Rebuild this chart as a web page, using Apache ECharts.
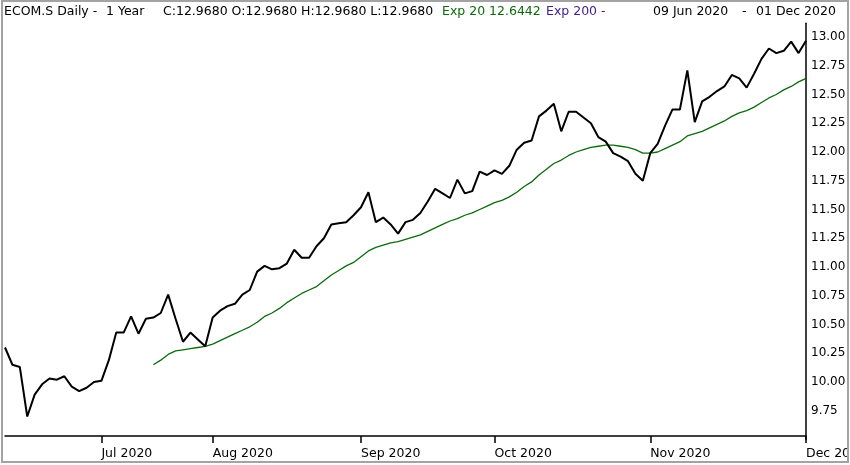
<!DOCTYPE html>
<html>
<head>
<meta charset="utf-8">
<script src="https://cdn.jsdelivr.net/npm/echarts@6/dist/echarts.min.js"></script>
<style>
  html, body { margin: 0; padding: 0; background: #fff; }
  #chart { width: 850px; height: 465px; }
</style>
</head>
<body>
<div id="chart"></div>
<script>
// ---- data ----
const monthNames = ['Jun 2020', 'Jul 2020', 'Aug 2020', 'Sep 2020', 'Oct 2020', 'Nov 2020', 'Dec 2020'];
const pointsPerMonth = [13, 15, 20, 18, 21, 21, 1];

const closeValues = [
  10.30, 10.15, 10.13, 9.70, 9.89, 9.98, 10.03, 10.02, 10.05, 9.96,
  9.92, 9.95, 10.00, 10.01, 10.19, 10.43, 10.43, 10.57, 10.42, 10.55,
  10.56, 10.60, 10.76, 10.55, 10.35, 10.43, 10.37, 10.31, 10.56, 10.62,
  10.66, 10.68, 10.76, 10.80, 10.96, 11.01, 10.98, 10.99, 11.03, 11.15,
  11.08, 11.08, 11.18, 11.25, 11.37, 11.38, 11.39, 11.45, 11.52, 11.65,
  11.39, 11.43, 11.37, 11.29, 11.39, 11.41, 11.47, 11.57, 11.68, 11.64,
  11.60, 11.76, 11.64, 11.66, 11.83, 11.80, 11.84, 11.81, 11.88, 12.02,
  12.08, 12.10, 12.31, 12.36, 12.42, 12.18, 12.35, 12.35, 12.30, 12.25,
  12.13, 12.09, 11.99, 11.96, 11.92, 11.81, 11.75, 11.99, 12.07, 12.23,
  12.37, 12.37, 12.71, 12.26, 12.44, 12.48, 12.53, 12.57, 12.67, 12.64,
  12.56, 12.68, 12.81, 12.90, 12.86, 12.88, 12.96, 12.86, 12.968
];

const ema20Lead = 20; // points before the Exp 20 line starts
const ema20Values = [
  10.15, 10.19, 10.24, 10.27, 10.28, 10.29, 10.30, 10.31, 10.33, 10.36,
  10.39, 10.42, 10.45, 10.48, 10.52, 10.57, 10.60, 10.64, 10.69, 10.73,
  10.77, 10.80, 10.83, 10.88, 10.93, 10.97, 11.01, 11.04, 11.09, 11.14,
  11.17, 11.19, 11.21, 11.22, 11.24, 11.26, 11.28, 11.31, 11.34, 11.37,
  11.40, 11.42, 11.45, 11.47, 11.50, 11.53, 11.56, 11.58, 11.61, 11.65,
  11.70, 11.74, 11.80, 11.85, 11.90, 11.93, 11.97, 12.00, 12.02, 12.04,
  12.05, 12.06, 12.06, 12.05, 12.04, 12.02, 11.99, 11.99, 12.00, 12.03,
  12.06, 12.09, 12.14, 12.16, 12.18, 12.21, 12.24, 12.27, 12.31, 12.34,
  12.36, 12.39, 12.43, 12.47, 12.50, 12.54, 12.57, 12.61, 12.64
];

const yTickMin = 9.5;
const yTickMax = 13.12;
const yTickStep = 0.25;

const headerParts = [
  { text: 'ECOM.S Daily -', color: '#000000' },
  { text: '1 Year', color: '#000000' },
  { text: 'C:12.9680 O:12.9680 H:12.9680 L:12.9680', color: '#000000' },
  { text: 'Exp 20 12.6442', color: '#0b6b0b' },
  { text: 'Exp 200 -', color: '#3b1e8e' },
  { text: '09 Jun 2020', color: '#000000' },
  { text: '-', color: '#000000' },
  { text: '01 Dec 2020', color: '#000000' }
];
const headerX = [4, 106, 163, 442, 546, 653, 742, 756];

// ---- build ----
const categories = [];
monthNames.forEach((m, i) => { for (let k = 0; k < pointsPerMonth[i]; k++) categories.push(m); });
const ema20Series = new Array(ema20Lead).fill(null).concat(ema20Values);

const isMonthStart = (idx) => idx > 0 && categories[idx] !== categories[idx - 1];

const FONT = 'DejaVu Sans';
const chart = echarts.init(document.getElementById('chart'), null, { renderer: 'canvas' });

const graphics = headerParts.map((p, i) => ({
  type: 'text',
  left: headerX[i],
  top: 5,
  z: 100,
  style: { text: p.text, fill: p.color, font: '12.5px "' + FONT + '"' }
}));
graphics.push({
  type: 'rect', z: 99, silent: true,
  shape: { x: 848, y: 0, width: 2, height: 465 },
  style: { fill: '#ffffff' }
});
graphics.push({
  type: 'rect', z: 100, silent: true,
  shape: { x: 2, y: 1, width: 846, height: 461 },
  style: { fill: 'none', stroke: '#a3a3a3', lineWidth: 2 }
});

chart.setOption({
  animation: false,
  backgroundColor: '#ffffff',
  textStyle: { fontFamily: FONT },
  grid: { left: 5, right: 44, top: 23.2, bottom: 25.5, containLabel: false, outerBoundsMode: 'none' },
  xAxis: {
    type: 'category',
    data: categories,
    boundaryGap: false,
    offset: -3.5,
    axisLine: { show: true, lineStyle: { color: '#000', width: 1.5 } },
    axisTick: { show: true, interval: (idx) => isMonthStart(idx), length: 7, lineStyle: { color: '#000', width: 1.5 } },
    axisLabel: {
      show: true, interval: (idx) => isMonthStart(idx), align: 'left', margin: 11,
      color: '#000', fontSize: 12.5, fontFamily: FONT, hideOverlap: false
    },
    splitLine: { show: false }
  },
  yAxis: {
    type: 'value',
    position: 'right',
    min: yTickMin,
    max: yTickMax,
    interval: yTickStep,
    axisLine: { show: true, lineStyle: { color: '#000', width: 1.5 } },
    axisTick: { show: false },
    axisLabel: {
      show: true, margin: 5, color: '#000', fontSize: 12, fontFamily: FONT,
      showMinLabel: false, showMaxLabel: false,
      formatter: (v) => v.toFixed(2)
    },
    splitLine: { show: false }
  },
  series: [
    {
      name: 'Close', type: 'line', data: closeValues, symbol: 'none',
      lineStyle: { color: '#000000', width: 2 }, z: 3
    },
    {
      name: 'Exp 20', type: 'line', data: ema20Series, symbol: 'none', connectNulls: false,
      lineStyle: { color: '#0b6b0b', width: 1.3 }, z: 2
    }
  ],
  graphic: graphics
});
</script>
</body>
</html>
